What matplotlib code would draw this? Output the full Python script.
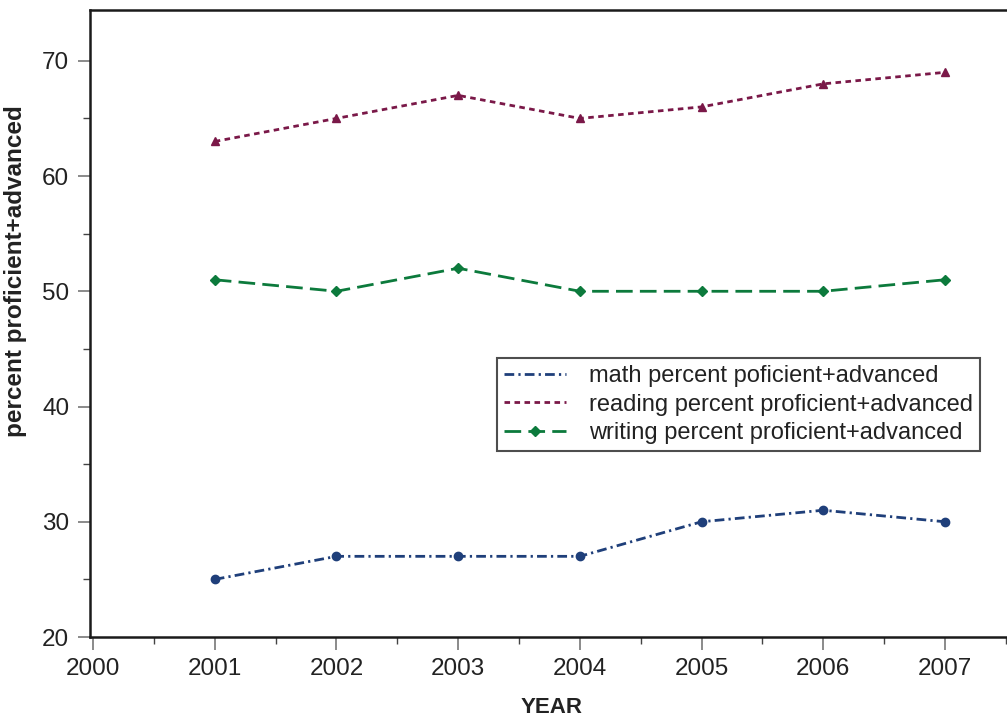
import matplotlib.pyplot as plt
from matplotlib.lines import Line2D
from matplotlib.ticker import MultipleLocator

plt.rcParams['font.family'] = ['Liberation Sans', 'DejaVu Sans']

years = [2001, 2002, 2003, 2004, 2005, 2006, 2007]
math_pct = [25, 27, 27, 27, 30, 31, 30]
reading_pct = [63, 65, 67, 65, 66, 68, 69]
writing_pct = [51, 50, 52, 50, 50, 50, 51]

labels = ['math percent poficient+advanced',
          'reading percent proficient+advanced',
          'writing percent proficient+advanced']

c_math = '#1f3f7a'
c_read = '#7a1848'
c_write = '#0c7a3c'

dash_math = (3.5, 1.5, 0.8, 1.5)
dash_read = (2.0, 1.6)
dash_write = (6, 2.6)

fig = plt.figure(figsize=(10.07, 7.21), dpi=100)
ax = fig.add_axes([0.0894, 0.1165, 0.9106, 0.8695])

ax.plot(years, math_pct, color=c_math, lw=2.0, dashes=dash_math,
        marker='o', ms=6)
ax.plot(years, reading_pct, color=c_read, lw=2.0, dashes=dash_read,
        marker='^', ms=6)
ax.plot(years, writing_pct, color=c_write, lw=2.0, dashes=dash_write,
        marker='D', ms=5)

ax.set_xlim(1999.975, 2007.51)
ax.set_ylim(20, 74.4)

ax.xaxis.set_major_locator(MultipleLocator(1))
ax.xaxis.set_minor_locator(MultipleLocator(0.5))
ax.yaxis.set_major_locator(MultipleLocator(10))
ax.yaxis.set_minor_locator(MultipleLocator(5))

ax.tick_params(which='major', direction='out', length=9, width=1.2,
               color='#777777', labelsize=17.5, labelcolor='#222222', pad=6)
ax.tick_params(which='minor', direction='out', length=5, width=1.0,
               color='#444444')

ax.spines['right'].set_visible(False)
for s in ['left', 'top', 'bottom']:
    ax.spines[s].set_linewidth(1.8)
    ax.spines[s].set_color('#1a1a1a')

ax.set_xlabel('YEAR', fontsize=16, fontweight='bold', color='#222222')
ax.xaxis.set_label_coords(0.503, -0.095)
ax.set_ylabel('percent proficient+advanced', fontsize=17.5, fontweight='bold',
              color='#222222')
ax.yaxis.set_label_coords(-0.069, 0.584)

# legend: only the writing entry shows its marker
handles = [
    Line2D([], [], color=c_math, lw=2.0, dashes=dash_math),
    Line2D([], [], color=c_read, lw=2.0, dashes=dash_read),
    Line2D([], [], color=c_write, lw=2.0, dashes=dash_write, marker='D', ms=5),
]
leg = ax.legend(handles, labels, loc='upper left',
                bbox_to_anchor=(0.444, 0.445), fontsize=17,
                frameon=True, fancybox=False, edgecolor='#222222',
                handlelength=2.6, handletextpad=1.0, labelspacing=0.28,
                borderpad=0.3, borderaxespad=0)
leg.get_frame().set_linewidth(1.5)
for t in leg.get_texts():
    t.set_color('#222222')

fig.savefig('out.png', dpi=100)
